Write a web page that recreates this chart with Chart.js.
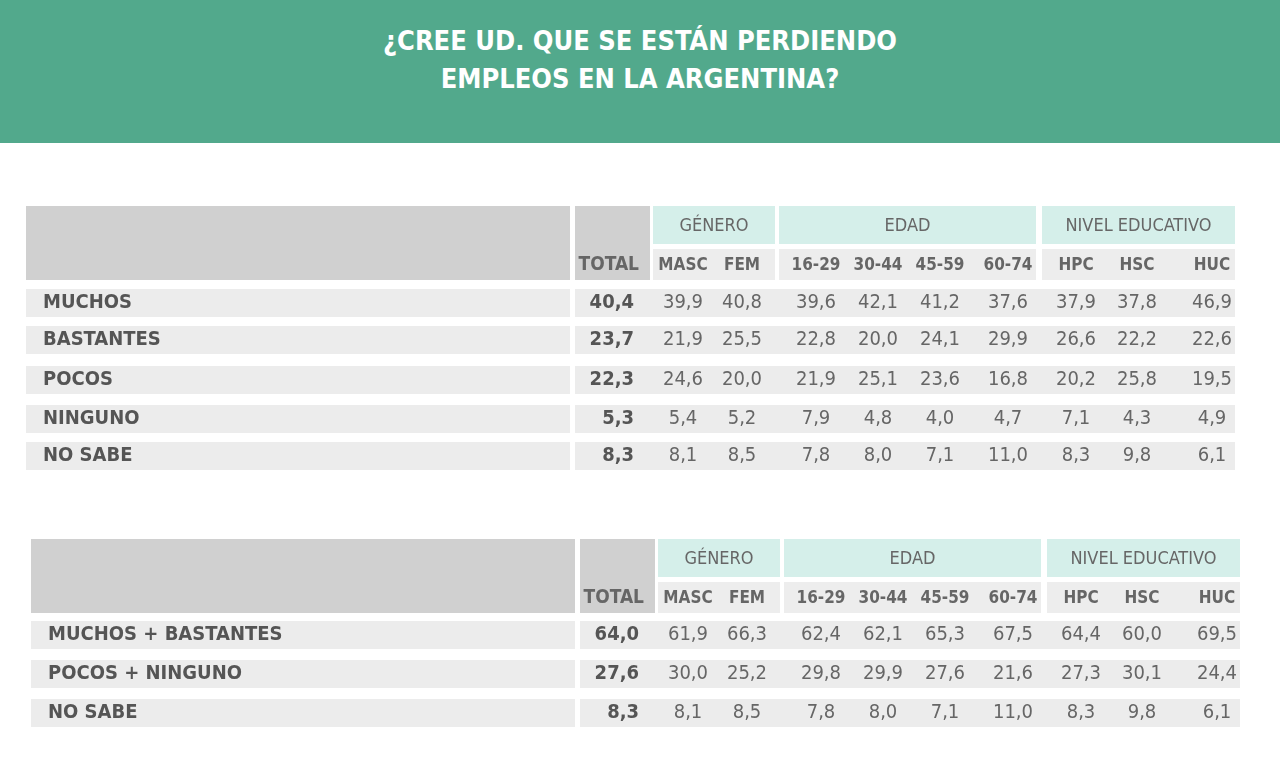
<!DOCTYPE html>
<html>
<head>
<meta charset="UTF-8">
<title>Empleos</title>
<style>
  body { margin: 0; background: #fff; width: 1280px; height: 783px; overflow: hidden; }
  #head { height: 143px; background: #52a98c; color: #fff; text-align: center;
          font-family: "DejaVu Sans Condensed", "DejaVu Sans", sans-serif; font-weight: bold;
          font-size: 27px; line-height: 38px; padding-top: 22px; box-sizing: border-box; }
  #wrap { position: absolute; left: 0; top: 143px; width: 1280px; height: 640px; }
</style>
<script src="https://cdn.jsdelivr.net/npm/chart.js"></script>
</head>
<body>
<div id="head">¿CREE UD. QUE SE ESTÁN PERDIENDO<br>EMPLEOS EN LA ARGENTINA?</div>
<div id="wrap"><canvas id="tabla"></canvas></div>
<script>
var groups = ['GÉNERO', 'EDAD', 'NIVEL EDUCATIVO'];
var columns = ['MASC', 'FEM', '16-29', '30-44', '45-59', '60-74', 'HPC', 'HSC', 'HUC'];

var rows1 = ['MUCHOS', 'BASTANTES', 'POCOS', 'NINGUNO', 'NO SABE'];
var total1 = ['40,4', '23,7', '22,3', '5,3', '8,3'];
var values1 = [
  ['39,9', '40,8', '39,6', '42,1', '41,2', '37,6', '37,9', '37,8', '46,9'],
  ['21,9', '25,5', '22,8', '20,0', '24,1', '29,9', '26,6', '22,2', '22,6'],
  ['24,6', '20,0', '21,9', '25,1', '23,6', '16,8', '20,2', '25,8', '19,5'],
  ['5,4', '5,2', '7,9', '4,8', '4,0', '4,7', '7,1', '4,3', '4,9'],
  ['8,1', '8,5', '7,8', '8,0', '7,1', '11,0', '8,3', '9,8', '6,1']
];

var rows2 = ['MUCHOS + BASTANTES', 'POCOS + NINGUNO', 'NO SABE'];
var total2 = ['64,0', '27,6', '8,3'];
var values2 = [
  ['61,9', '66,3', '62,4', '62,1', '65,3', '67,5', '64,4', '60,0', '69,5'],
  ['30,0', '25,2', '29,8', '29,9', '27,6', '21,6', '27,3', '30,1', '24,4'],
  ['8,1', '8,5', '7,8', '8,0', '7,1', '11,0', '8,3', '9,8', '6,1']
];

var FONT = '"DejaVu Sans Condensed", "DejaVu Sans", sans-serif';

function drawTable(chart, t) {
  var ctx = chart.ctx, sx = chart.scales.x, sy = chart.scales.y;
  function X(v) { return sx.getPixelForValue(v + t.dx); }
  function Y(v) { return sy.getPixelForValue(v + t.top); }
  function rect(x0, y0, x1, y1, c) { ctx.fillStyle = c; ctx.fillRect(X(x0), Y(y0), X(x1) - X(x0), Y(y1) - Y(y0)); }
  var colX = [683, 742, 816, 878, 940, 1008, 1076, 1137, 1212];
  var groupSpan = [[653, 775], [779, 1036], [1042, 1235]];
  var subSpan = [[653, 775], [779, 1036], [1042, 1235]];
  // header blocks
  rect(26, 0, 570, 74, '#d0d0d0');
  rect(575, 0, 650, 74, '#d0d0d0');
  ctx.textBaseline = 'middle';
  groupSpan.forEach(function (g, i) {
    rect(g[0], 0, g[1], 38, '#d5efea');
    rect(subSpan[i][0], 43, subSpan[i][1], 74, '#ededed');
    ctx.fillStyle = '#666'; ctx.font = '18px ' + FONT; ctx.textAlign = 'center';
    ctx.fillText(groups[i], (X(g[0]) + X(g[1])) / 2, Y(20));
  });
  ctx.fillStyle = '#666'; ctx.font = 'bold 19px ' + FONT; ctx.textAlign = 'right';
  ctx.fillText('TOTAL', X(639), Y(59));
  ctx.font = 'bold 17px ' + FONT; ctx.textAlign = 'center';
  columns.forEach(function (c, i) { ctx.fillText(c, X(colX[i]), Y(60)); });
  // rows
  t.rows.forEach(function (r, i) {
    var y0 = t.rowY[i], y1 = y0 + 28;
    rect(26, y0, 1235, y1, '#ececec');
    rect(570, y0, 575, y1, '#ffffff');
    var ym = Y(y0 + 14);
    ctx.fillStyle = '#555'; ctx.font = 'bold 20px ' + FONT; ctx.textAlign = 'left';
    ctx.fillText(r, X(43), ym);
    ctx.textAlign = 'right'; ctx.font = 'bold 20px ' + FONT;
    ctx.fillText(t.total[i], X(634), ym);
    ctx.fillStyle = '#666'; ctx.font = '20px ' + FONT; ctx.textAlign = 'center';
    t.values[i].forEach(function (v, j) { ctx.fillText(v, X(colX[j]), ym); });
  });
}

var tablePlugin = {
  id: 'tabla',
  afterDraw: function (chart) {
    drawTable(chart, { top: 63, dx: 0, rows: rows1, total: total1, values: values1,
                       rowY: [83, 120, 160, 199, 236] });
    drawTable(chart, { top: 396, dx: 5, rows: rows2, total: total2, values: values2,
                       rowY: [82, 121, 160] });
  }
};

new Chart(document.getElementById('tabla'), {
  type: 'scatter',
  data: { datasets: [{ data: [] }] },
  options: {
    responsive: true, maintainAspectRatio: false, animation: false,
    layout: { padding: 0 },
    plugins: { legend: { display: false }, tooltip: { enabled: false } },
    scales: {
      x: { type: 'linear', min: 0, max: 1280, display: false },
      y: { type: 'linear', min: 0, max: 640, reverse: true, display: false }
    }
  },
  plugins: [tablePlugin]
});
</script>
</body>
</html>
